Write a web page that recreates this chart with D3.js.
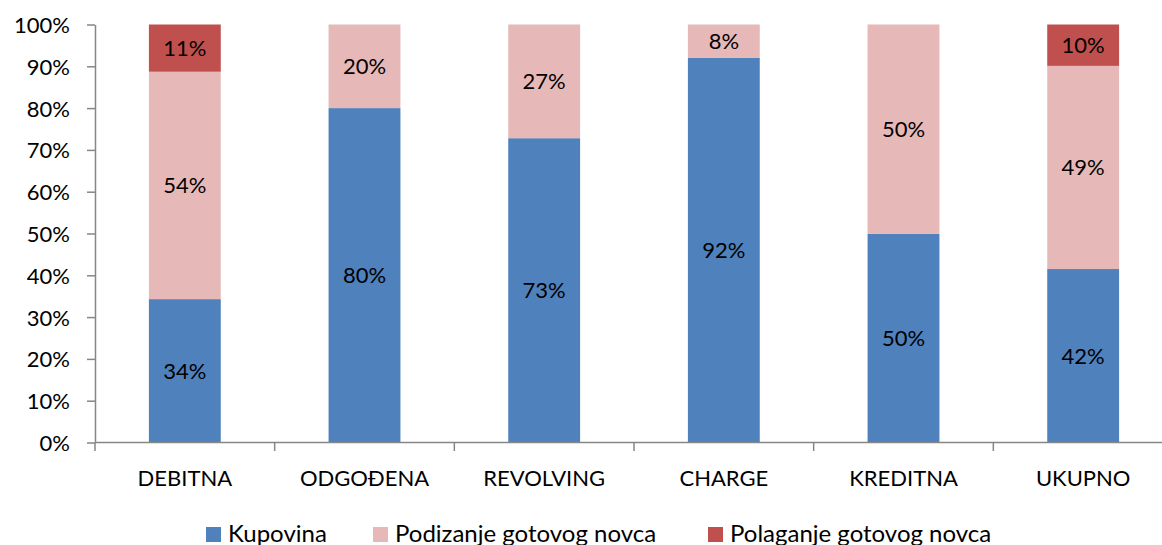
<!DOCTYPE html>
<html><head><meta charset="utf-8">
<script src="https://cdn.jsdelivr.net/npm/d3@7"></script>
<style>body{margin:0;background:#fff;}svg{display:block;font-family:Lato,"Open Sans",sans-serif;}</style>
</head><body>
<svg id="c" width="1162" height="545"></svg>
<script>
const categories = ["DEBITNA","ODGOĐENA","REVOLVING","CHARGE","KREDITNA","UKUPNO"];
const kupovina = [34.3, 80.0, 72.8, 92.0, 49.9, 41.5];
const podizanje = [54.4, 20.0, 27.2, 8.0, 50.1, 48.6];
const polaganje = [11.3, 0, 0, 0, 0, 9.9];
const kupovinaLabels = ["34%","80%","73%","92%","50%","42%"];
const podizanjeLabels = ["54%","20%","27%","8%","50%","49%"];
const polaganjeLabels = ["11%","","","","","10%"];
const seriesNames = ["Kupovina","Podizanje gotovog novca","Polaganje gotovog novca"];
const colors = ["#4F81BD","#E6B9B8","#C0504D"];
const yTicks = [0,10,20,30,40,50,60,70,80,90,100];

const FS = 22;
const svg = d3.select("#c");
const x = d3.scaleBand().domain(categories).range([95,1173]).paddingInner(0.6).paddingOuter(0.3);
const y = d3.scaleLinear().domain([0,100]).range([442.5,24.5]);

const rows = categories.map((c,i)=>({cat:c, Kupovina:kupovina[i], Podizanje:podizanje[i], Polaganje:polaganje[i],
  labels:[kupovinaLabels[i],podizanjeLabels[i],polaganjeLabels[i]]}));
const stack = d3.stack().keys(["Kupovina","Podizanje","Polaganje"]);
const stacked = stack(rows);

stacked.forEach((s,si)=>{
  const g = svg.append("g");
  g.selectAll("rect").data(s).join("rect")
    .attr("x",d=>x(d.data.cat)).attr("width",x.bandwidth())
    .attr("y",d=>y(d[1])).attr("height",d=>y(d[0])-y(d[1]))
    .attr("fill",colors[si]);
  g.selectAll("text").data(s.filter(d=>d.data.labels[si])).join("text")
    .attr("x",d=>x(d.data.cat)+x.bandwidth()/2)
    .attr("y",d=>(y(d[0])+y(d[1]))/2)
    .attr("dy","0.36em").attr("text-anchor","middle")
    .attr("font-size",FS).attr("fill","#000")
    .text(d=>d.data.labels[si]);
});

// y axis
const ya = svg.append("g").attr("transform","translate(95,0)")
  .call(d3.axisLeft(y).tickValues(yTicks).tickFormat(d=>d+"%").tickSize(8).tickSizeOuter(0));
ya.select(".domain").attr("stroke","#868686").attr("stroke-width",1.5);
ya.selectAll(".tick line").attr("stroke","#868686").attr("stroke-width",1.5);
ya.selectAll("text").attr("font-size",FS).attr("fill","#000").attr("x",-25).attr("dy","0.36em").attr("font-family","Lato,'Open Sans',sans-serif");

// x axis
const xa = svg.append("g").attr("transform","translate(0,442.5)")
  .call(d3.axisBottom(x).tickSize(0).tickSizeOuter(0));
xa.select(".domain").attr("stroke","#868686").attr("stroke-width",1.5).attr("d","M95,0H1173");
xa.selectAll("text").attr("font-size",FS).attr("fill","#000").attr("y",43.5).attr("dy","0").attr("font-family","Lato,'Open Sans',sans-serif");
const step = x.step();
const bounds = d3.range(categories.length+1).map(i=>95+i*step);
svg.append("g").selectAll("line").data(bounds).join("line")
  .attr("x1",d=>d).attr("x2",d=>d).attr("y1",442.5).attr("y2",451)
  .attr("stroke","#868686").attr("stroke-width",1.5);

// legend
const legX = [206,373,708];
const lg = svg.append("g");
seriesNames.forEach((n,i)=>{
  lg.append("rect").attr("x",legX[i]).attr("y",527).attr("width",15).attr("height",15).attr("fill",colors[i]);
  lg.append("text").attr("x",legX[i]+22).attr("y",541.5).attr("font-size",24).attr("fill","#000").text(n);
});
</script>
</body></html>
